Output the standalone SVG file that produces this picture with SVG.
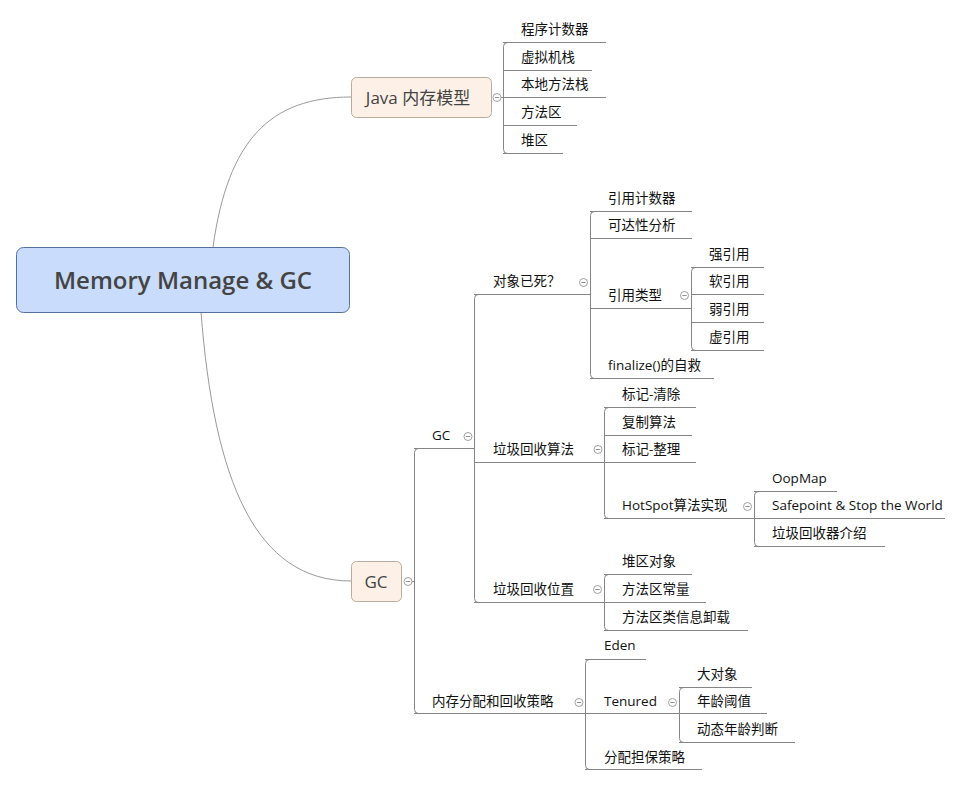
<svg xmlns="http://www.w3.org/2000/svg" width="962" height="786" viewBox="0 0 962 786">
<style>
.t{font-family:"Open Sans","Noto Sans CJK SC",sans-serif;font-size:13.5px;fill:#111}
.u{stroke:#858585;stroke-width:1;fill:none}
.br{stroke:#858585;stroke-width:1;fill:none}
.cv{stroke:#9a9a9a;stroke-width:1;fill:none}
.cc{fill:#fff;stroke:#a0a0a0;stroke-width:1}
.cm{stroke:#909090;stroke-width:1}
.nt{font-family:"Open Sans","Noto Sans CJK SC",sans-serif;fill:#444}
</style>
<defs>
<g id="col"><circle class="cc" r="4"/><line class="cm" x1="-2.2" y1="0" x2="2.2" y2="0"/></g>
</defs>
<rect width="962" height="786" fill="#fff"/>
<g id="connectors">
<path class="cv" d="M213,247 C228,140 270,97 351,97"/>
<path class="cv" d="M201,312 C214,480 255,581 351,581"/>
<line class="u" x1="501" y1="97.5" x2="503" y2="97.5"/>
<line class="u" x1="412" y1="581.5" x2="414" y2="581.5"/>
<path class="br" d="M507.5,42.5 Q503.5,42.5 503.5,46.5 V149.5 Q503.5,153.5 507.5,153.5"/>
<path class="br" d="M418.5,448.5 Q414.5,448.5 414.5,452.5 V709.5 Q414.5,713.5 418.5,713.5"/>
<path class="br" d="M478.5,294.5 Q474.5,294.5 474.5,298.5 V598.5 Q474.5,602.5 478.5,602.5"/>
<path class="br" d="M594.5,211.5 Q590.5,211.5 590.5,215.5 V374.5 Q590.5,378.5 594.5,378.5"/>
<path class="br" d="M695.5,267.5 Q691.5,267.5 691.5,271.5 V346.5 Q691.5,350.5 695.5,350.5"/>
<path class="br" d="M608.5,407.5 Q604.5,407.5 604.5,411.5 V514.5 Q604.5,518.5 608.5,518.5"/>
<path class="br" d="M758.5,491.5 Q754.5,491.5 754.5,495.5 V542.5 Q754.5,546.5 758.5,546.5"/>
<path class="br" d="M608.5,574.5 Q604.5,574.5 604.5,578.5 V626.5 Q604.5,630.5 608.5,630.5"/>
<path class="br" d="M589.5,659.5 Q585.5,659.5 585.5,663.5 V765.5 Q585.5,769.5 589.5,769.5"/>
<path class="br" d="M683.5,687.5 Q679.5,687.5 679.5,691.5 V738.5 Q679.5,742.5 683.5,742.5"/>
</g>
<g id="root">
<rect x="16.5" y="247.5" width="333" height="65" rx="7" fill="#c9dcfb" stroke="#56709e" stroke-width="1"/>
<text class="nt" x="183" y="289" font-size="24" font-weight="600" text-anchor="middle">Memory Manage &amp; GC</text>
</g>
<g id="java">
<rect x="351.5" y="77.5" width="140" height="40" rx="5" fill="#fdf1e7" stroke="#b8aca0" stroke-width="1"/>
<text class="nt" x="418" y="103.5" font-size="17" text-anchor="middle">Java 内存模型</text>
<use href="#col" x="497" y="97.5"/>
</g>
<g id="jm1"><text class="t" x="521" y="34">程序计数器</text><line class="u" x1="503" y1="42.5" x2="606" y2="42.5"/></g>
<g id="jm2"><text class="t" x="521" y="62">虚拟机栈</text><line class="u" x1="503" y1="70.5" x2="592" y2="70.5"/></g>
<g id="jm3"><text class="t" x="521" y="89">本地方法栈</text><line class="u" x1="503" y1="97.5" x2="606" y2="97.5"/></g>
<g id="jm4"><text class="t" x="521" y="117">方法区</text><line class="u" x1="503" y1="125.5" x2="577" y2="125.5"/></g>
<g id="jm5"><text class="t" x="521" y="145">堆区</text><line class="u" x1="503" y1="153.5" x2="563" y2="153.5"/></g>
<g id="gc">
<rect x="351.5" y="561.5" width="50" height="40" rx="5" fill="#fdf1e7" stroke="#b8aca0" stroke-width="1"/>
<text class="nt" x="376" y="587.5" font-size="17" text-anchor="middle">GC</text>
<use href="#col" x="408" y="581.5"/>
</g>
<g id="gcsub"><text class="t" x="432" y="440">GC</text><line class="u" x1="414" y1="448.5" x2="474" y2="448.5"/><use href="#col" x="468" y="436.5"/></g>
<g id="dead"><text class="t" x="493" y="286">对象已死？</text><line class="u" x1="474" y1="294.5" x2="590" y2="294.5"/><use href="#col" x="583.5" y="282.5"/></g>
<g id="d1"><text class="t" x="608" y="203">引用计数器</text><line class="u" x1="590" y1="211.5" x2="692" y2="211.5"/></g>
<g id="d2"><text class="t" x="608" y="230">可达性分析</text><line class="u" x1="590" y1="238.5" x2="692" y2="238.5"/></g>
<g id="d3"><text class="t" x="608" y="300">引用类型</text><line class="u" x1="590" y1="308.5" x2="691" y2="308.5"/><use href="#col" x="684.5" y="295.5"/></g>
<g id="r1"><text class="t" x="709" y="259">强引用</text><line class="u" x1="691" y1="267.5" x2="764" y2="267.5"/></g>
<g id="r2"><text class="t" x="709" y="286">软引用</text><line class="u" x1="691" y1="294.5" x2="764" y2="294.5"/></g>
<g id="r3"><text class="t" x="709" y="314">弱引用</text><line class="u" x1="691" y1="322.5" x2="764" y2="322.5"/></g>
<g id="r4"><text class="t" x="709" y="342">虚引用</text><line class="u" x1="691" y1="350.5" x2="764" y2="350.5"/></g>
<g id="d4"><text class="t" x="608" y="370">finalize()的自救</text><line class="u" x1="590" y1="378.5" x2="714" y2="378.5"/></g>
<g id="algo"><text class="t" x="493" y="454">垃圾回收算法</text><line class="u" x1="474" y1="462.5" x2="604" y2="462.5"/><use href="#col" x="598" y="449.5"/></g>
<g id="a1"><text class="t" x="622" y="399">标记-清除</text><line class="u" x1="604" y1="407.5" x2="696" y2="407.5"/></g>
<g id="a2"><text class="t" x="622" y="427">复制算法</text><line class="u" x1="604" y1="435.5" x2="692" y2="435.5"/></g>
<g id="a3"><text class="t" x="622" y="454">标记-整理</text><line class="u" x1="604" y1="462.5" x2="696" y2="462.5"/></g>
<g id="a4"><text class="t" x="622" y="510">HotSpot算法实现</text><line class="u" x1="604" y1="518.5" x2="754" y2="518.5"/><use href="#col" x="747.5" y="506.5"/></g>
<g id="h1"><text class="t" x="772" y="483">OopMap</text><line class="u" x1="754" y1="491.5" x2="837" y2="491.5"/></g>
<g id="h2"><text class="t" x="772" y="510">Safepoint &amp; Stop the World</text><line class="u" x1="754" y1="518.5" x2="945" y2="518.5"/></g>
<g id="h3"><text class="t" x="772" y="538">垃圾回收器介绍</text><line class="u" x1="754" y1="546.5" x2="885" y2="546.5"/></g>
<g id="where"><text class="t" x="493" y="594">垃圾回收位置</text><line class="u" x1="474" y1="602.5" x2="604" y2="602.5"/><use href="#col" x="597.5" y="589.5"/></g>
<g id="w1"><text class="t" x="622" y="566">堆区对象</text><line class="u" x1="604" y1="574.5" x2="692" y2="574.5"/></g>
<g id="w2"><text class="t" x="622" y="594">方法区常量</text><line class="u" x1="604" y1="602.5" x2="706" y2="602.5"/></g>
<g id="w3"><text class="t" x="622" y="622">方法区类信息卸载</text><line class="u" x1="604" y1="630.5" x2="748" y2="630.5"/></g>
<g id="alloc"><text class="t" x="432" y="706">内存分配和回收策略</text><line class="u" x1="414" y1="713.5" x2="585" y2="713.5"/><use href="#col" x="579" y="702.5"/></g>
<g id="e1"><text class="t" x="604" y="650">Eden</text><line class="u" x1="585" y1="659.5" x2="646" y2="659.5"/></g>
<g id="e2"><text class="t" x="604" y="706">Tenured</text><line class="u" x1="585" y1="713.5" x2="679" y2="713.5"/><use href="#col" x="672.5" y="702.5"/></g>
<g id="t1"><text class="t" x="697" y="679">大对象</text><line class="u" x1="679" y1="687.5" x2="752" y2="687.5"/></g>
<g id="t2"><text class="t" x="697" y="706">年龄阈值</text><line class="u" x1="679" y1="713.5" x2="767" y2="713.5"/></g>
<g id="t3"><text class="t" x="697" y="734">动态年龄判断</text><line class="u" x1="679" y1="742.5" x2="795" y2="742.5"/></g>
<g id="e3"><text class="t" x="604" y="762">分配担保策略</text><line class="u" x1="585" y1="769.5" x2="702" y2="769.5"/></g>
</svg>
